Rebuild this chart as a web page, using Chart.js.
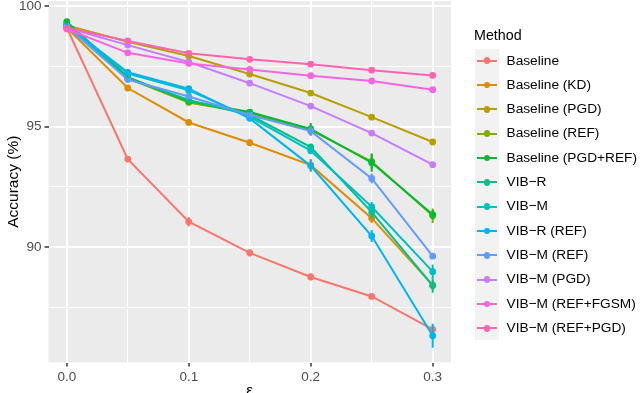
<!DOCTYPE html>
<html>
<head>
<meta charset="utf-8">
<script src="https://cdn.jsdelivr.net/npm/chart.js@4"></script>
<style>
  html, body { margin: 0; padding: 0; background: #fff; overflow: hidden; }
  #wrap { position: absolute; left: 0; top: 0; width: 640px; height: 410px; }
  #legend { position: absolute; left: 474px; top: 26px; font-family: 'Liberation Sans', Arial, sans-serif; color: #000; }
  #legend .title { font-size: 14.3px; height: 22.5px; line-height: 18px; }
  #legend .item { position: relative; height: 24.33px; }
  #legend .key { position: absolute; left: 1px; top: 0; width: 24px; height: 24.33px; background: #F2F2F2; }
  #legend .key .ln { position: absolute; left: 2px; top: 11.2px; width: 20px; height: 2px; }
  #legend .key .pt { position: absolute; left: 8.6px; top: 8.8px; width: 6.8px; height: 6.8px; border-radius: 50%; }
  #legend .lbl { position: absolute; left: 32.5px; top: 0; line-height: 24.33px; font-size: 13.7px; white-space: nowrap; }
</style>
</head>
<body>
<div id="wrap"><canvas id="accChart"></canvas></div>
<div id="legend"></div>
<script>
// x values (epsilon) and tick labels
const eps = [0, 0.05, 0.1, 0.15, 0.2, 0.25, 0.3];
const xTicks = [0, 0.05, 0.1, 0.15, 0.2, 0.25, 0.3];
const xTickLabels = ['0.0', '', '0.1', '', '0.2', '', '0.3'];
const yTicks = [87.5, 90, 92.5, 95, 97.5, 100];
const yTickLabels = ['', '90', '', '95', '', '100'];

const methods = ['Baseline', 'Baseline (KD)', 'Baseline (PGD)', 'Baseline (REF)', 'Baseline (PGD+REF)',
  'VIB\u2212R', 'VIB\u2212M', 'VIB\u2212R (REF)', 'VIB\u2212M (REF)', 'VIB\u2212M (PGD)',
  'VIB\u2212M (REF+FGSM)', 'VIB\u2212M (REF+PGD)'];
const colors = ['#F8766D', '#DE8C00', '#B79F00', '#7CAE00', '#00BA38', '#00C08B',
  '#00BFC4', '#00B4F0', '#619CFF', '#C77CFF', '#F564E3', '#FF64B0'];

// accuracy (%) per method
const baseline       = [99.10, 93.65, 91.05, 89.76, 88.76, 87.95, 86.58];
const baselineKD     = [99.10, 96.60, 95.17, 94.33, 93.40, 91.20, 88.42];
const baselinePGD    = [99.20, 98.52, 97.93, 97.18, 96.39, 95.39, 94.36];
const baselineREF    = [99.30, 97.00, 96.00, 95.55, 94.85, 93.55, 91.30];
const baselinePGDREF = [99.35, 97.05, 96.05, 95.60, 94.90, 93.50, 91.35];
const vibR           = [99.20, 97.00, 96.10, 95.48, 94.15, 91.45, 88.40];
const vibM           = [99.15, 97.20, 96.50, 95.40, 94.00, 91.67, 88.98];
const vibRREF        = [99.20, 97.25, 96.57, 95.34, 93.37, 90.46, 86.32];
const vibMREF        = [99.15, 96.95, 96.25, 95.48, 94.81, 92.85, 89.62];
const vibMPGD        = [99.10, 98.38, 97.68, 96.80, 95.85, 94.73, 93.42];
const vibMREFFGSM    = [99.05, 98.06, 97.62, 97.37, 97.11, 96.89, 96.53];
const vibMREFPGD     = [99.10, 98.55, 98.04, 97.79, 97.59, 97.34, 97.12];

// error bar half-widths
const errBaseline       = [0.05, 0.12, 0.20, 0.15, 0.15, 0.06, 0.10];
const errBaselineKD     = [0.05, 0.05, 0.05, 0.15, 0.25, 0.20, 0.20];
const errBaselinePGD    = [0.05, 0.05, 0.05, 0.05, 0.05, 0.05, 0.05];
const errBaselineREF    = [0.05, 0.05, 0.05, 0.10, 0.20, 0.30, 0.30];
const errBaselinePGDREF = [0.08, 0.05, 0.05, 0.10, 0.25, 0.38, 0.20];
const errVibR           = [0.05, 0.05, 0.05, 0.10, 0.15, 0.25, 0.30];
const errVibM           = [0.05, 0.05, 0.05, 0.10, 0.15, 0.20, 0.30];
const errVibRREF        = [0.05, 0.05, 0.05, 0.10, 0.25, 0.25, 0.50];
const errVibMREF        = [0.05, 0.05, 0.10, 0.10, 0.20, 0.20, 0.10];
const errVibMPGD        = [0.05, 0.05, 0.05, 0.05, 0.05, 0.05, 0.05];
const errVibMREFFGSM    = [0.05, 0.05, 0.05, 0.05, 0.05, 0.05, 0.05];
const errVibMREFPGD     = [0.05, 0.05, 0.05, 0.05, 0.05, 0.05, 0.05];

const series = [baseline, baselineKD, baselinePGD, baselineREF, baselinePGDREF, vibR, vibM,
  vibRREF, vibMREF, vibMPGD, vibMREFFGSM, vibMREFPGD];
const errors = [errBaseline, errBaselineKD, errBaselinePGD, errBaselineREF, errBaselinePGDREF, errVibR,
  errVibM, errVibRREF, errVibMREF, errVibMPGD, errVibMREFFGSM, errVibMREFPGD];

const FONT = "'Liberation Sans', Arial, sans-serif";

// gray panel behind the plot
const panelBg = {
    id: 'panelBg',
    beforeDraw(chart) {
        const { ctx, chartArea: a } = chart;
        ctx.save();
        ctx.fillStyle = '#EBEBEB';
        ctx.fillRect(a.left, a.top, a.right - a.left, a.bottom - a.top);
        ctx.restore();
    }
};

// vertical error bars, positioned with the chart's scales
const errorBars = {
    id: 'errorBars',
    afterDatasetsDraw(chart) {
        const { ctx, chartArea: a, scales } = chart;
        ctx.save();
        ctx.beginPath();
        ctx.rect(a.left, a.top, a.right - a.left, a.bottom - a.top);
        ctx.clip();
        ctx.lineWidth = 2;
        chart.data.datasets.forEach((ds, i) => {
            ctx.strokeStyle = colors[i];
            ds.data.forEach((p, j) => {
                const e = errors[i][j];
                const x = scales.x.getPixelForValue(p.x);
                ctx.beginPath();
                ctx.moveTo(x, scales.y.getPixelForValue(p.y - e));
                ctx.lineTo(x, scales.y.getPixelForValue(p.y + e));
                ctx.stroke();
            });
        });
        ctx.restore();
    }
};

function initChart() {
    const ctx = document.getElementById('accChart').getContext('2d');
    const datasets = series.map((vals, i) => ({
        label: methods[i],
        data: vals.map((v, j) => ({ x: eps[j], y: v })),
        borderColor: colors[i],
        backgroundColor: colors[i],
        borderWidth: 2,
        pointRadius: 3.4,
        pointBorderWidth: 0,
        pointBackgroundColor: colors[i],
        tension: 0,
        order: series.length - 1 - i
    }));

    new Chart(ctx, {
        type: 'line',
        data: { datasets },
        options: {
            responsive: true,
            maintainAspectRatio: false,
            animation: false,
            layout: { autoPadding: false, padding: { left: 0, top: 1, right: 189, bottom: 0 } },
            scales: {
                x: {
                    type: 'linear',
                    min: -0.015,
                    max: 0.315,
                    afterBuildTicks: s => { s.ticks = xTicks.map(v => ({ value: v })); },
                    afterFit: s => { s.height = 47.5; s.paddingLeft = 0; s.paddingRight = 0; },
                    border: { display: false },
                    grid: {
                        color: '#FFFFFF',
                        lineWidth: c => (xTickLabels[c.index] ? 2 : 1),
                        tickLength: 4,
                        tickWidth: 1.5,
                        tickColor: c => (xTickLabels[c.index] ? '#333333' : 'rgba(0,0,0,0)')
                    },
                    ticks: {
                        autoSkip: false,
                        maxRotation: 0,
                        padding: 3,
                        color: '#4D4D4D',
                        font: { family: FONT, size: 13.5 },
                        callback: (v, i) => xTickLabels[i]
                    },
                    title: {
                        display: true,
                        text: '\u03b5',
                        color: '#000',
                        font: { family: FONT, size: 15.5 },
                        padding: { top: 0, bottom: 10 }
                    }
                },
                y: {
                    type: 'linear',
                    min: 85.21,
                    max: 100.21,
                    afterBuildTicks: s => { s.ticks = yTicks.map(v => ({ value: v })); },
                    afterFit: s => { s.width = 48.5; s.paddingTop = 0; s.paddingBottom = 0; },
                    border: { display: false },
                    grid: {
                        color: '#FFFFFF',
                        lineWidth: c => (yTickLabels[c.index] ? 2 : 1),
                        tickLength: 4,
                        tickWidth: 1.5,
                        tickColor: c => (yTickLabels[c.index] ? '#333333' : 'rgba(0,0,0,0)')
                    },
                    ticks: {
                        autoSkip: false,
                        padding: 3,
                        color: '#4D4D4D',
                        font: { family: FONT, size: 13.5 },
                        callback: (v, i) => yTickLabels[i]
                    },
                    title: {
                        display: true,
                        text: 'Accuracy (%)',
                        color: '#000',
                        font: { family: FONT, size: 15.5 },
                        padding: { top: 4, bottom: 0 }
                    }
                }
            },
            plugins: {
                legend: { display: false },
                tooltip: { enabled: false }
            }
        },
        plugins: [panelBg, errorBars]
    });
}

// ggplot-style legend on the right
function buildLegend() {
    const el = document.getElementById('legend');
    let html = '<div class="title">Method</div>';
    methods.forEach((m, i) => {
        html += `<div class="item"><div class="key"><div class="ln" style="background:${colors[i]}"></div>` +
            `<div class="pt" style="background:${colors[i]}"></div></div><div class="lbl">${m}</div></div>`;
    });
    el.innerHTML = html;
}

initChart();
buildLegend();
</script>
</body>
</html>
